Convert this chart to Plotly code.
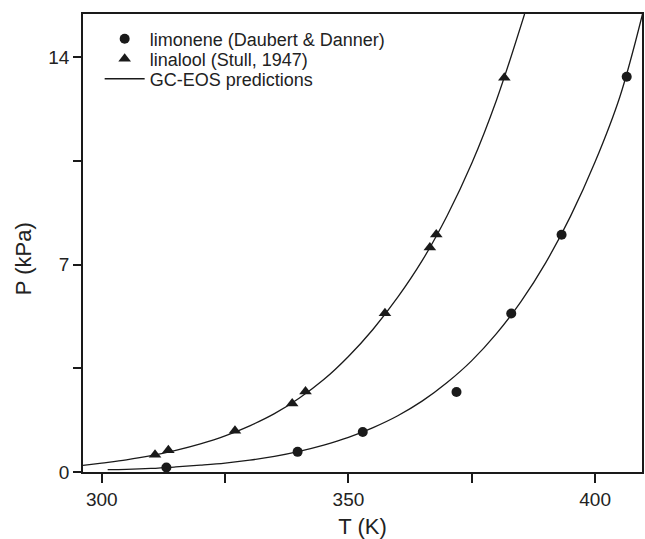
import plotly.graph_objects as go

# Experimental data
limonene_T = [313.1, 339.7, 352.9, 371.9, 383.0, 393.2, 406.4]
limonene_P = [0.15, 0.68, 1.35, 2.70, 5.35, 8.01, 13.34]
linalool_T = [310.8, 313.5, 327.0, 338.6, 341.3, 357.4, 366.5, 367.8, 381.6]
linalool_P = [0.58, 0.73, 1.39, 2.31, 2.72, 5.36, 7.58, 8.02, 13.31]

# GC-EOS prediction curves
lin_curve_T = [296.2, 300, 305, 310, 315, 320, 325, 330, 335, 340, 345, 350,
               355, 360, 365, 370, 375, 380, 385.7]
lin_curve_P = [0.22, 0.30, 0.41, 0.55, 0.73, 0.95, 1.22, 1.56, 1.97, 2.49, 3.12,
               3.90, 4.82, 5.90, 7.15, 8.65, 10.42, 12.55, 15.46]
lim_curve_T = [301.2, 305, 310, 315, 320, 325, 330, 335, 340, 345, 350, 355,
               360, 365, 370, 375, 380, 385, 390, 395, 400, 405, 409.6]
lim_curve_P = [0.08, 0.09, 0.12, 0.17, 0.23, 0.30, 0.40, 0.53, 0.70, 0.91, 1.17,
               1.50, 1.90, 2.40, 3.02, 3.76, 4.67, 5.76, 7.07, 8.63, 10.47, 12.66, 15.46]

x_tickvals = [300, 325, 350, 375, 400]
x_ticktext = ["300", "", "350", "", "400"]
y_tickvals = [0, 3.5, 7, 10.5, 14]
y_ticktext = ["0", "", "7", "", "14"]

INK = "#1a1a1a"
FONT = "Liberation Sans, Arial, Helvetica, sans-serif"

fig = go.Figure()

fig.add_trace(go.Scatter(x=lim_curve_T, y=lim_curve_P, mode="lines",
                         line=dict(color=INK, width=1.3, shape="spline"),
                         name="GC-EOS predictions", legend="legend3",
                         showlegend=True))
fig.add_trace(go.Scatter(x=lin_curve_T, y=lin_curve_P, mode="lines",
                         line=dict(color=INK, width=1.3, shape="spline"),
                         name="GC-EOS predictions", showlegend=False))
fig.add_trace(go.Scatter(x=limonene_T, y=limonene_P, mode="markers",
                         marker=dict(symbol="circle", size=10, color=INK),
                         name="limonene (Daubert & Danner)", legend="legend"))
fig.add_trace(go.Scatter(x=linalool_T, y=linalool_P, mode="markers",
                         marker=dict(symbol="triangle-up", size=11, color=INK),
                         name="linalool (Stull, 1947)", legend="legend2"))

leg_common = dict(xanchor="left", yanchor="middle", bgcolor="rgba(0,0,0,0)",
                  borderwidth=0, itemwidth=40,
                  font=dict(family=FONT, size=18, color="#222"))

fig.update_layout(
    width=645, height=539,
    margin=dict(l=83, r=1, t=14, b=67),
    paper_bgcolor="white", plot_bgcolor="white",
    font=dict(family=FONT, size=19, color="#222"),
    legend=dict(x=0.0298, y=0.9454, **leg_common),
    legend2=dict(x=0.0298, y=0.9017, **leg_common),
    legend3=dict(x=0.0298, y=0.858, **leg_common),
    xaxis=dict(range=[296.2, 409.5], tickvals=x_tickvals, ticktext=x_ticktext,
               showline=True, linecolor=INK, linewidth=1.5, mirror=True,
               ticks="outside", ticklen=9, tickwidth=1.5, tickcolor=INK,
               showgrid=False, zeroline=False,
               title=dict(text="T (K)", font=dict(size=22), standoff=12)),
    yaxis=dict(range=[0, 15.46], tickvals=y_tickvals, ticktext=y_ticktext,
               showline=True, linecolor=INK, linewidth=1.5, mirror=True,
               ticks="outside", ticklen=8, tickwidth=1.5, tickcolor=INK,
               showgrid=False, zeroline=False),
    annotations=[dict(text="P (kPa)", textangle=-90, xref="paper", yref="paper",
                      x=-0.107, y=0.465, xanchor="center", yanchor="middle",
                      showarrow=False, font=dict(family=FONT, size=22, color="#222"))],
)

fig.write_html("out.html")
